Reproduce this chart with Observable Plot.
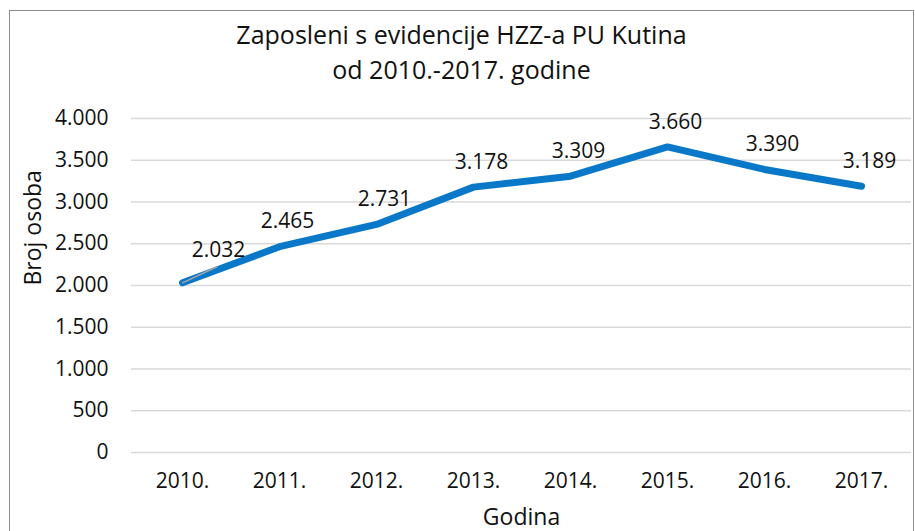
<!DOCTYPE html>
<html><head><meta charset="utf-8">
<script src="https://cdn.jsdelivr.net/npm/d3@7"></script>
<script src="https://cdn.jsdelivr.net/npm/@observablehq/plot@0.6"></script>
<style>
body{margin:0;background:#fff;width:915px;height:531px;overflow:hidden;position:relative;font-family:"Open Sans",sans-serif;}
#frame{position:absolute;left:9px;top:10px;width:905px;height:540px;border:1px solid #8c8c8c;box-sizing:border-box;}
.title{position:absolute;left:9px;width:905px;text-align:center;font-size:25px;line-height:30px;color:#111;}
#chart{position:absolute;left:0;top:0;}
</style></head><body>
<div id="frame"></div>
<div id="chart"></div>
<div class="title" style="top:19px">Zaposleni s evidencije HZZ-a PU Kutina</div>
<div class="title" style="top:54px">od 2010.-2017. godine</div>
<script>
const years = ["2010.", "2011.", "2012.", "2013.", "2014.", "2015.", "2016.", "2017."];
const employed = [2032, 2465, 2731, 3178, 3309, 3660, 3390, 3189];
const yTicks = [0, 500, 1000, 1500, 2000, 2500, 3000, 3500, 4000];
const xTitle = "Godina";
const yTitle = "Broj osoba";

const fmt = d3.formatLocale({decimal: ",", thousands: ".", grouping: [3], currency: ["", ""]}).format(",d");
const data = years.map((y, i) => ({year: y, value: employed[i]}));

const leader = {draw(context, l) { context.moveTo(0, 0); context.lineTo(0, -l); }};

const chart = Plot.plot({
  width: 915,
  height: 531,
  marginLeft: 131,
  marginRight: 4,
  marginTop: 118,
  marginBottom: 79,
  style: {fontFamily: "'Open Sans', sans-serif", fontSize: "21px", color: "#111", background: "transparent"},
  x: {type: "point", domain: years, padding: 0.5, label: null},
  y: {domain: [0, 4000], label: null},
  marks: [
    Plot.ruleY(yTicks, {stroke: "#d9d9d9", strokeWidth: 1.5}),
    Plot.axisY({ticks: yTicks, tickFormat: fmt, tickSize: 0, tickPadding: 23, label: null}),
    Plot.axisX({tickSize: 0, tickPadding: 21, label: null}),
    Plot.line(data, {x: "year", y: "value", stroke: "#0a78c8", strokeWidth: 7, strokeLinecap: "round", strokeLinejoin: "round"}),
    Plot.vector(data, {filter: (d, i) => i === 0, x: "year", y: "value", rotate: 65, length: 38, anchor: "start", shape: leader, stroke: "#a6a6a6", strokeWidth: 1.5}),
    Plot.text(data, {filter: (d, i) => i > 0, x: "year", y: "value", text: d => fmt(d.value), dx: 8, dy: -25, fill: "#111"}),
    Plot.text(data, {filter: (d, i) => i === 0, x: "year", y: "value", text: d => fmt(d.value), dx: 36, dy: -33, fill: "#111"}),
    Plot.text([xTitle], {frameAnchor: "bottom", dy: 72, fontSize: 23, fill: "#111"}),
    Plot.text([yTitle], {frameAnchor: "left", dx: -98, rotate: -90, fontSize: 23, fill: "#111"})
  ]
});
document.getElementById("chart").appendChild(chart);
</script>
</body></html>
